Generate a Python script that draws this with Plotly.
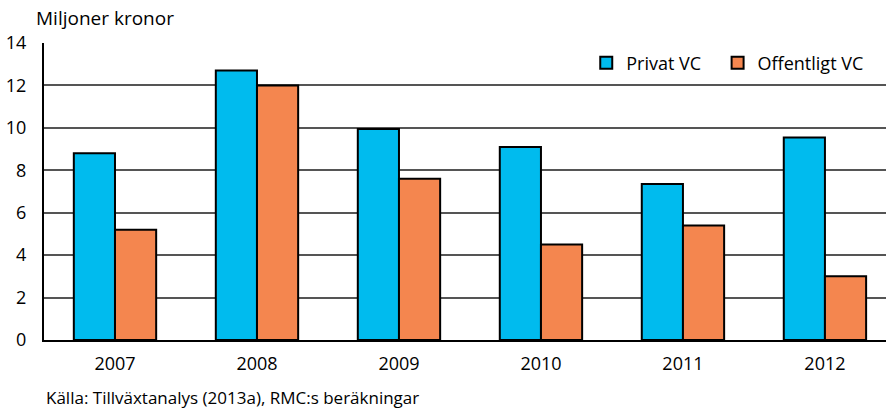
import plotly.graph_objects as go

years = ["2007", "2008", "2009", "2010", "2011", "2012"]
privat_vc = [8.8, 12.7, 9.95, 9.1, 7.35, 9.55]
offentligt_vc = [5.2, 12.0, 7.6, 4.5, 5.4, 3.0]

FONT = "Open Sans"

fig = go.Figure()
fig.add_trace(go.Bar(x=years, y=privat_vc, name="Privat VC", legend="legend",
                     marker=dict(color="#00BBEE", line=dict(color="black", width=2))))
fig.add_trace(go.Bar(x=years, y=offentligt_vc, name="Offentligt VC", legend="legend2",
                     marker=dict(color="#F4864F", line=dict(color="black", width=2))))

leg_common = dict(orientation="h", xanchor="left", y=0.995, yanchor="top",
                  bgcolor="rgba(255,255,255,0)", font=dict(size=18), itemwidth=30)

fig.update_layout(
    width=886, height=409,
    margin=dict(l=44, r=0, t=43, b=69),
    paper_bgcolor="white", plot_bgcolor="white",
    font=dict(family=FONT, size=18, color="black"),
    barmode="group", bargap=0.42, bargroupgap=0,
    showlegend=True,
    legend=dict(x=0.644, **leg_common),
    legend2=dict(x=0.8, **leg_common),
    annotations=[
        dict(text="Miljoner kronor", xref="paper", yref="paper", x=-0.012, y=1.084,
             xanchor="left", yanchor="middle", showarrow=False, font=dict(size=19)),
        dict(text="Källa: Tillväxtanalys (2013a), RMC:s beräkningar", xref="paper", yref="paper",
             x=0.0, y=-0.195, xanchor="left", yanchor="middle", showarrow=False,
             font=dict(size=17)),
    ],
)
fig.update_xaxes(range=[-0.5, 5.43], showline=True, linecolor="black", linewidth=2,
                 ticks="", showgrid=False, tickfont=dict(size=18), ticklabelstandoff=6)
fig.update_yaxes(range=[0, 14], dtick=2, showgrid=True, gridcolor="#555555", gridwidth=1.5,
                 showline=True, linecolor="black", linewidth=2, ticks="",
                 ticklabelstandoff=12, zeroline=False, tickfont=dict(size=18))

fig.write_html("out.html", config={"displayModeBar": False},
               post_script="document.body.style.margin='0px';")
